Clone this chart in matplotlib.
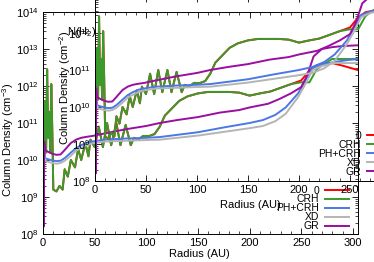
import numpy as np
import matplotlib
matplotlib.use("Agg")
import matplotlib.pyplot as plt
from matplotlib.ticker import MultipleLocator, LogLocator, FixedLocator

plt.rcParams['font.family'] = ['Liberation Sans', 'DejaVu Sans']
plt.rcParams['mathtext.fontset'] = 'custom'
plt.rcParams['mathtext.rm'] = 'Liberation Sans'
plt.rcParams['mathtext.default'] = 'regular'

# radius (AU) and log10 column density
r_crh = [0, 1, 2, 3, 4, 5, 6, 7, 8, 9, 10, 13, 16, 19, 21, 24, 27, 31, 34, 37,
         41, 44, 46, 50, 54, 58, 62, 66, 71, 75, 80, 85, 88, 92, 97, 103, 108, 113, 118, 125,
         132, 140, 150, 160, 170, 180, 190, 200, 210, 220, 230, 240, 250, 258, 265, 272, 280, 290, 305]
lg_crh = [10.5, 9.8, 11.6, 10.2, 12.45, 10.6, 11.3, 10.2, 12.05, 10.8, 9.2, 9.15, 9.3, 9.2, 9.75, 9.55, 10.0, 9.8, 10.3, 10.0,
          10.45, 10.1, 10.55, 10.35, 10.9, 10.35, 11.0, 10.4, 11.0, 10.4, 10.95, 10.4, 10.6, 10.55, 10.65, 10.65, 10.7, 10.9, 11.2, 11.4,
          11.6, 11.72, 11.8, 11.84, 11.84, 11.84, 11.82, 11.74, 11.8, 11.85, 11.95, 12.05, 12.1, 12.1, 12.45, 12.6, 12.73, 12.73, 12.73]

# "0" runs under CRH until the outer edge
n_shared = 52
r_zero_tail = [250, 258, 265, 272, 280, 290, 305]
lg_zero_tail = [12.15, 12.42, 12.56, 12.6, 12.62, 12.55, 12.43]

r_gr = [0, 0.6, 1.2, 2, 5, 9, 13, 17, 21, 27, 32, 37, 43, 48, 60, 80, 100, 113, 130, 150,
        171, 190, 200, 218, 229, 240, 250, 256, 262, 270, 280, 290, 305]
lg_gr = [11.4, 8.2, 10.5, 10.27, 10.22, 10.17, 10.14, 10.15, 10.27, 10.46, 10.55, 10.6, 10.63, 10.65, 10.72, 10.83, 10.92, 11.0, 11.08, 11.16,
         11.28, 11.35, 11.42, 11.52, 11.65, 11.8, 11.97, 12.3, 12.8, 13.0, 13.05, 13.08, 13.1]

r_ph = [0, 0.6, 1.2, 2, 5, 9, 13, 17, 21, 27, 32, 37, 43, 48, 60, 80, 100, 113, 130, 150,
        175, 200, 213, 225, 235, 247, 254, 261, 270, 282, 295, 305]
lg_phcrh = [10.8, 8.5, 10.2, 10.05, 10.02, 9.99, 9.97, 9.98, 10.05, 10.2, 10.32, 10.4, 10.47, 10.5, 10.55, 10.58, 10.6, 10.62, 10.68, 10.75,
            10.88, 11.0, 11.08, 11.22, 11.42, 11.8, 12.15, 12.49, 12.58, 12.65, 12.7, 12.73]
lg_xd = [10.7, 8.4, 10.1, 9.98, 9.95, 9.92, 9.9, 9.92, 9.98, 10.12, 10.25, 10.33, 10.41, 10.45, 10.5, 10.52, 10.54, 10.55, 10.6, 10.66,
         10.76, 10.86, 10.92, 11.05, 11.25, 11.7, 12.05, 12.43, 12.54, 12.62, 12.62, 12.62]

labels = ['0', 'CRH', 'PH+CRH', 'XD', 'GR']
colors = ['#ff0000', '#3a9a2a', '#4a78e8', '#b4b4b4', '#9a0ea0']

r_zero = r_crh[:n_shared] + r_zero_tail
lg_zero = lg_crh[:n_shared] + lg_zero_tail
series = [(r_zero, lg_zero), (r_crh, lg_crh), (r_ph, lg_phcrh), (r_ph, lg_xd), (r_gr, lg_gr)]

W, H = 374, 262
fig = plt.figure(figsize=(W / 100, H / 100), dpi=100)


def px_axes(left, top, right, bottom):
    return fig.add_axes([left / W, 1 - bottom / H, (right - left) / W, (bottom - top) / H])


def style(ax):
    ax.set_yscale('log')
    ax.xaxis.set_major_locator(MultipleLocator(50))
    ax.xaxis.set_minor_locator(MultipleLocator(10))
    ax.yaxis.set_major_locator(LogLocator(base=10))
    ax.yaxis.set_minor_locator(LogLocator(base=10, subs=np.arange(2, 10)))
    ax.tick_params(which='both', direction='in', top=True, right=True, labelsize=8, pad=3)
    ax.tick_params(which='major', length=4, width=0.6)
    ax.tick_params(which='minor', length=2, width=0.5)
    for s in ax.spines.values():
        s.set_linewidth(0.7)


# main panel
ax = px_axes(43, 12, 358, 234)
style(ax)
for (x, y), c, lab in zip(series, colors, labels):
    ax.plot(x, 10 ** np.array(y), color=c, lw=1.4, label=lab)
ax.set_xlim(0, 305)
ax.set_ylim(1e8, 1e14)
ax.legend(loc='lower right', bbox_to_anchor=(0.972, 0.012), markerfirst=False, frameon=False,
          fontsize=7.5, handlelength=2.3, handletextpad=0.6, labelspacing=-0.1, borderpad=0, borderaxespad=0)
fig.text(8 / W, 1 - 140 / H, 'Column Density (cm$^{-3}$)', rotation=90, ha='center', va='center', fontsize=8)
fig.text(199 / W, 1 - 254 / H, 'Radius (AU)', ha='center', va='center', fontsize=8)

# inset panel (runs off the figure on the top and right)
ax2 = px_axes(95, -4, 401, 181)
ax2.patch.set_alpha(0)
style(ax2)
ax2.yaxis.set_major_locator(FixedLocator([1e8, 1e9, 1e10, 1e11, 1e12]))
ax2.xaxis.set_major_locator(FixedLocator([0, 50, 100, 150, 200, 250]))
for (x, y), c, lab in zip(series, colors, labels):
    ax2.plot(x, 10 ** np.array(y), color=c, lw=1.4, label=lab)
ax2.set_xlim(0, 300)
ax2.set_ylim(1e8, 1e13)
ax2.legend(loc='lower right', bbox_to_anchor=(0.968, 0.022), markerfirst=False, frameon=False,
           fontsize=7.5, handlelength=2.3, handletextpad=0.6, labelspacing=-0.1, borderpad=0, borderaxespad=0)
fig.text(65 / W, 1 - 88 / H, 'Column Density (cm$^{-2}$)', rotation=90, ha='center', va='center', fontsize=8)
fig.text(82 / W, 1 - 32 / H, 'N(H$_2$)', ha='center', va='center', fontsize=8)
fig.text(250 / W, 1 - 205 / H, 'Radius (AU)', ha='center', va='center', fontsize=8)

fig.savefig('out.png', dpi=100)
